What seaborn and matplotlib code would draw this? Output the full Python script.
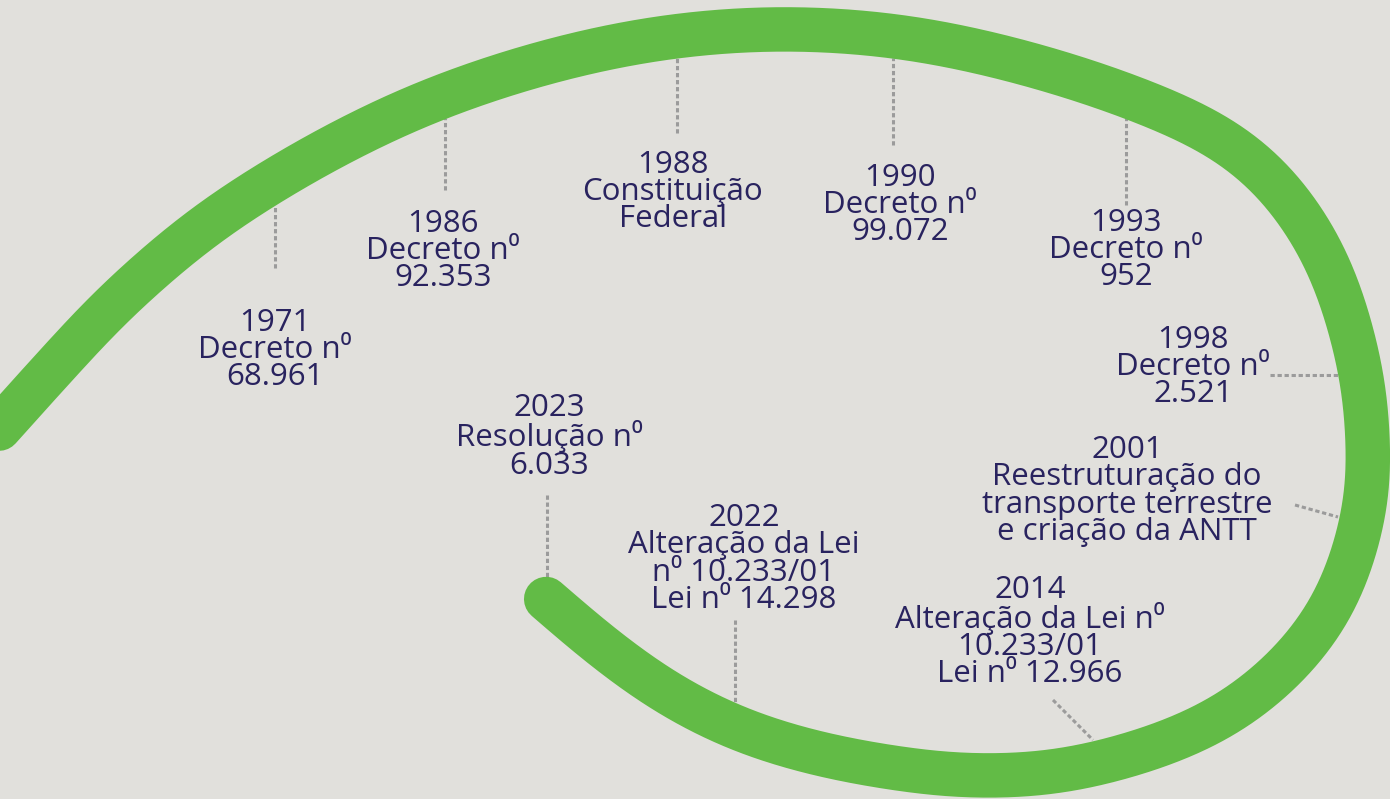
# Linha do tempo da regulamentação do transporte terrestre (espiral verde)

import numpy as np
import pandas as pd
import matplotlib
matplotlib.use("Agg")
import matplotlib.pyplot as plt
import seaborn as sns

# Dados: marcos da linha do tempo
years = ["1971", "1986", "1988", "1990", "1993", "1998", "2001", "2014", "2022", "2023"]
acts = [
    "Decreto n⁰\n68.961",
    "Decreto n⁰\n92.353",
    "Constituição\nFederal",
    "Decreto n⁰\n99.072",
    "Decreto n⁰\n952",
    "Decreto n⁰\n2.521",
    "Reestruturação do\ntransporte terrestre\ne criação da ANTT",
    "Alteração da Lei n⁰\n10.233/01\nLei n⁰ 12.966",
    "Alteração da Lei\nn⁰ 10.233/01\nLei n⁰ 14.298",
    "Resolução n⁰\n6.033",
]

# Layout (pixels, origem no canto superior esquerdo)
label_x = [275, 443, 673, 900, 1126, 1193, 1127, 1030, 744, 549]
label_y = [350, 251, 192, 205, 250, 367, 491, 632, 559, 437]
conn_x0 = [275, 445, 677, 893, 1126, 1270, 1295, 1053, 735, 547]
conn_y0 = [268, 190, 133, 145, 205, 375, 505, 700, 620, 495]
conn_x1 = [275, 445, 677, 893, 1126, 1342, 1338, 1093, 735, 547]
conn_y1 = [207, 118, 58, 58, 118, 375, 517, 740, 703, 578]

# caminho central da espiral
spiral_pts = [
    (-4, 432), (50, 372), (120, 298), (233, 206), (437, 98), (674, 36),
    (896, 36), (1134, 98), (1250, 158), (1322, 250), (1362, 375),
    (1368, 440), (1367, 500), (1327, 617), (1230, 713), (1080, 768),
    (970, 776), (893, 768), (810, 752), (735, 728), (665, 692),
    (600, 645), (545, 598),
]

BG = "#e1e0dc"
GREEN = "#62bb46"
NAVY = "#29235f"
GREY = "#9b9b9b"


def catmull_rom(pts, n=60, alpha=0.5):
    # spline centrípeta passando pelos pontos
    P = np.asarray(pts, float)
    P = np.vstack([2 * P[0] - P[1], P, 2 * P[-1] - P[-2]])
    out = []
    for i in range(1, len(P) - 2):
        p0, p1, p2, p3 = P[i - 1], P[i], P[i + 1], P[i + 2]
        t0 = 0.0
        t1 = t0 + np.linalg.norm(p1 - p0) ** alpha
        t2 = t1 + np.linalg.norm(p2 - p1) ** alpha
        t3 = t2 + np.linalg.norm(p3 - p2) ** alpha
        t = np.linspace(t1, t2, n, endpoint=False)[:, None]
        a1 = (t1 - t) / (t1 - t0) * p0 + (t - t0) / (t1 - t0) * p1
        a2 = (t2 - t) / (t2 - t1) * p1 + (t - t1) / (t2 - t1) * p2
        a3 = (t3 - t) / (t3 - t2) * p2 + (t - t2) / (t3 - t2) * p3
        b1 = (t2 - t) / (t2 - t0) * a1 + (t - t0) / (t2 - t0) * a2
        b2 = (t3 - t) / (t3 - t1) * a2 + (t - t1) / (t3 - t1) * a3
        out.append((t2 - t) / (t2 - t1) * b1 + (t - t1) / (t2 - t1) * b2)
    out.append(P[-2:-1])
    return np.vstack(out)


def smooth_path(c, step=2.0, sigma=32.0):
    # reamostra por comprimento de arco e suaviza com gaussiana
    seg = np.hypot(*np.diff(c, axis=0).T)
    s = np.concatenate([[0], np.cumsum(seg)])
    su = np.arange(0, s[-1], step)
    c = np.column_stack([np.interp(su, s, c[:, 0]), np.interp(su, s, c[:, 1])])
    k = int(3 * sigma / step)
    w = np.exp(-0.5 * (np.arange(-k, k + 1) * step / sigma) ** 2)
    w /= w.sum()
    head = 2 * c[0] - c[1:k + 1][::-1]
    tail = 2 * c[-1] - c[-k - 1:-1][::-1]
    cp = np.vstack([head, c, tail])
    return np.column_stack([np.convolve(cp[:, 0], w, "valid"),
                            np.convolve(cp[:, 1], w, "valid")])


sns.set_theme(style="white")
plt.rcParams["font.family"] = ["Open Sans", "DejaVu Sans"]

fig = plt.figure(figsize=(13.9, 7.99), dpi=100, facecolor=BG)
ax = fig.add_axes([0, 0, 1, 1])
ax.set_facecolor(BG)

curve = smooth_path(catmull_rom(spiral_pts))
spiral = pd.DataFrame({"x": curve[:, 0], "y": curve[:, 1]})
sns.lineplot(data=spiral, x="x", y="y", sort=False, estimator=None, color=GREEN,
             lw=32, solid_capstyle="round", ax=ax, zorder=2)

# conectores pontilhados
for x0, y0, x1, y1 in zip(conn_x0, conn_y0, conn_x1, conn_y1):
    ax.plot([x0, x1], [y0, y1], color=GREY, lw=2.2, linestyle=(0, (1.4, 0.9)),
            solid_capstyle="butt", zorder=1)

# rótulos
for yr, act, x, y in zip(years, acts, label_x, label_y):
    ax.text(x, y, yr + "\n" + act, ha="center", va="center", multialignment="center",
            fontsize=22.5, color=NAVY, linespacing=0.88, zorder=3)

ax.set_xlim(0, 1390)
ax.set_ylim(799, 0)
ax.axis("off")

fig.savefig("out.png", dpi=100, facecolor=BG)
